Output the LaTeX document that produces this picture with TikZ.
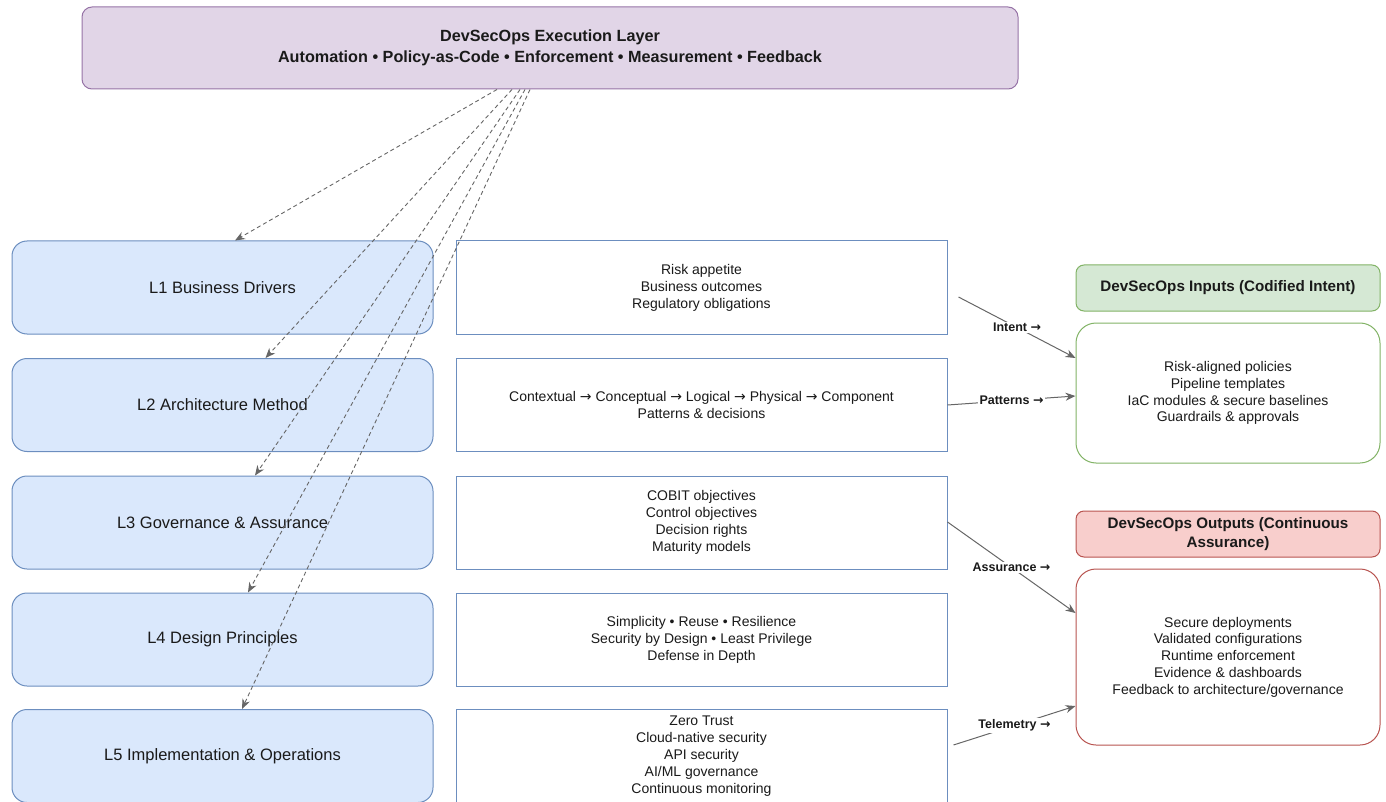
\documentclass[tikz,border=0pt]{standalone}
\usepackage{fontspec}
\setmainfont{Liberation Sans}
\newfontfamily\arrowfont{DejaVu Sans}
\usetikzlibrary{arrows.meta,calc}

\definecolor{execfill}{HTML}{E1D5E7}
\definecolor{execline}{HTML}{9673A6}
\definecolor{layerfill}{HTML}{DAE8FC}
\definecolor{layerline}{HTML}{6C8EBF}
\definecolor{infill}{HTML}{D5E8D4}
\definecolor{inline}{HTML}{82B366}
\definecolor{outfill}{HTML}{F8CECC}
\definecolor{outline}{HTML}{B85450}
\definecolor{linkgray}{HTML}{666666}
\definecolor{ink}{HTML}{1A1A1A}

% a plain right arrow in running text
\newcommand{\rto}{{\arrowfont →}}

\tikzset{
  execbox/.style={draw=execline, fill=execfill, rounded corners=10pt, line width=1pt,
    minimum width=936pt, minimum height=82pt, align=center, text=ink,
    font=\bfseries\fontsize{16.2}{20.5}\selectfont},
  layerbox/.style={draw=layerline, fill=layerfill, rounded corners=15pt, line width=1pt,
    minimum width=421pt, minimum height=93pt, text=ink,
    font=\fontsize{16.5}{19}\selectfont},
  detailbox/.style={draw=layerline, fill=white, line width=1pt,
    minimum width=491pt, minimum height=93pt, align=center, text=ink,
    font=\fontsize{14}{17}\selectfont},
  headbox/.style={rounded corners=8pt, line width=1pt, minimum width=304pt,
    minimum height=46pt, align=center, text=ink,
    font=\bfseries\fontsize{15.2}{18.5}\selectfont},
  listbox/.style={fill=white, rounded corners=20pt, line width=1pt, minimum width=304pt,
    align=center, text=ink, font=\fontsize{14}{16.8}\selectfont},
  feed/.style={draw=linkgray, line width=0.9pt, dash pattern=on 4pt off 3pt,
    -{Stealth[length=10pt,width=8pt]}},
  flow/.style={draw=linkgray, line width=1pt, -{Stealth[length=10pt,width=8pt]}},
  flowlabel/.style={fill=white, inner sep=1.5pt, text=ink,
    font=\bfseries\fontsize{12.5}{14}\selectfont},
}

\begin{document}
\begin{tikzpicture}[x=1pt,y=-1pt]
\useasboundingbox (0,0) rectangle (1386,802);

% execution layer
\node[execbox] (exec) at (550,48) {\raisebox{-2pt}{DevSecOps Execution Layer}\\[0pt]\raisebox{-2pt}{Automation • Policy-as-Code • Enforcement • Measurement • Feedback}};

% architecture layers
\node[layerbox] (l1) at (222.5,287.5) {L1 Business Drivers};
\node[layerbox] (l2) at (222.5,405) {L2 Architecture Method};
\node[layerbox] (l3) at (222.5,522.5) {L3 Governance \& Assurance};
\node[layerbox] (l4) at (222.5,639.5) {L4 Design Principles};
\node[layerbox] (l5) at (222.5,756) {L5 Implementation \& Operations};

% layer details
\node[detailbox] (d1) at (701.5,287.5) {Risk appetite\\Business outcomes\\Regulatory obligations};
\node[detailbox] (d2) at (701.5,405) {Contextual \rto{} Conceptual \rto{} Logical \rto{} Physical \rto{} Component\\Patterns \& decisions};
\node[detailbox] (d3) at (701.5,522.5) {COBIT objectives\\Control objectives\\Decision rights\\Maturity models};
\node[detailbox] (d4) at (701.5,639.5) {Simplicity • Reuse • Resilience\\Security by Design • Least Privilege\\Defense in Depth};
\node[detailbox] (d5) at (701.5,756) {Zero Trust\\Cloud-native security\\API security\\AI/ML governance\\Continuous monitoring};

% inputs and outputs
\node[headbox, draw=inline, fill=infill] (inhead) at (1228,288) {DevSecOps Inputs (Codified Intent)};
\node[listbox, draw=inline, minimum height=140pt] (inbox) at (1228,393) {Risk-aligned policies\\Pipeline templates\\IaC modules \& secure baselines\\Guardrails \& approvals};
\node[headbox, draw=outline, fill=outfill] (outhead) at (1228,534) {DevSecOps Outputs (Continuous\\Assurance)};
\node[listbox, draw=outline, minimum height=176pt] (outbox) at (1228,657) {Secure deployments\\Validated configurations\\Runtime enforcement\\Evidence \& dashboards\\Feedback to architecture/governance};

% feedback from the execution layer to every architecture layer
\draw[feed] ($(exec.south)+(-53,0)$) -- ($(l1.north)+(12.5,0)$);
\draw[feed] ($(exec.south)+(-38,0)$) -- ($(l2.north)+(43,0)$);
\draw[feed] ($(exec.south)+(-30,0)$) -- ($(l3.north)+(32.5,0)$);
\draw[feed] ($(exec.south)+(-25,0)$) -- ($(l4.north)+(25.5,0)$);
\draw[feed] ($(exec.south)+(-20,0)$) -- ($(l5.north)+(19.5,0)$);

% intent into the pipeline, assurance out of it
\draw[flow] ($(d1.east)+(11,9.5)$) -- node[flowlabel] {Intent \rto} ($(inbox.west)+(0,-35)$);
\draw[flow] (d2.east) -- node[flowlabel] {Patterns \rto} ($(inbox.west)+(0,3)$);
\draw[flow] ($(d3.east)+(0,-0.5)$) -- node[flowlabel] {Assurance \rto} ($(outbox.west)+(0,-44)$);
\draw[flow] ($(d5.east)+(6,-11)$) -- node[flowlabel] {Telemetry \rto} ($(outbox.west)+(0,49)$);
\end{tikzpicture}
\end{document}
